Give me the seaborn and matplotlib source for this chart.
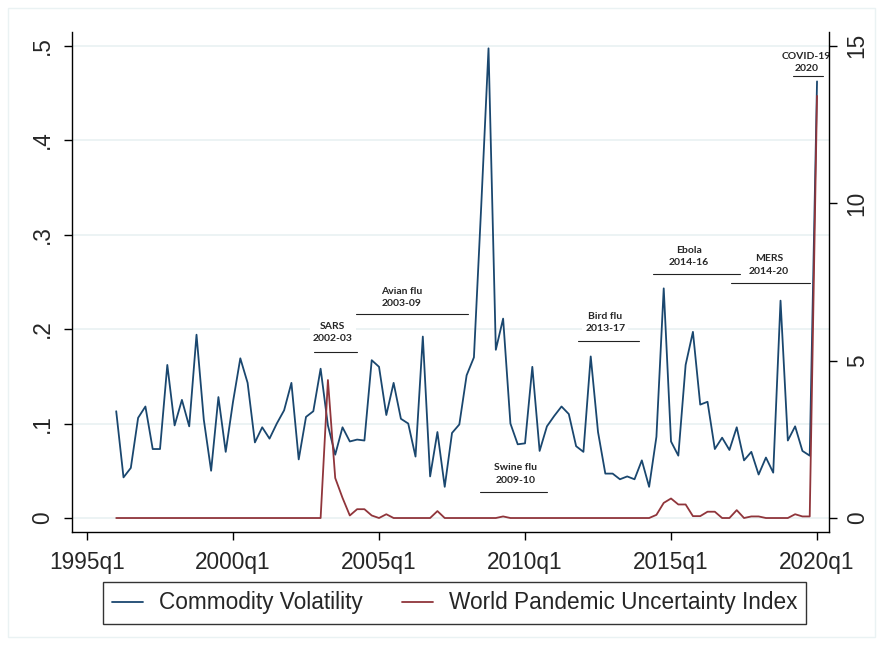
import pandas as pd
import matplotlib
matplotlib.use('Agg')
import matplotlib.pyplot as plt
from matplotlib.patches import Rectangle
import seaborn as sns

# quarterly data, 1996q1 - 2020q1
quarters = pd.period_range('1996Q1', '2020Q1', freq='Q')

commodity_vol = [
    0.113, 0.043, 0.053, 0.106, 0.118, 0.073, 0.073, 0.162, 0.098, 0.125,
    0.097, 0.194, 0.104, 0.050, 0.128, 0.070, 0.123, 0.169, 0.143, 0.080,
    0.096, 0.084, 0.100, 0.114, 0.143, 0.062, 0.107, 0.113, 0.158, 0.098,
    0.067, 0.096, 0.081, 0.083, 0.082, 0.167, 0.160, 0.109, 0.143, 0.105,
    0.100, 0.065, 0.192, 0.044, 0.091, 0.033, 0.090, 0.099, 0.151, 0.170,
    0.330, 0.497, 0.178, 0.211, 0.100, 0.078, 0.079, 0.160, 0.071, 0.097,
    0.108, 0.118, 0.110, 0.076, 0.070, 0.171, 0.091, 0.047, 0.047, 0.041,
    0.044, 0.041, 0.061, 0.033, 0.086, 0.243, 0.081, 0.066, 0.162, 0.197,
    0.120, 0.123, 0.073, 0.085, 0.072, 0.096, 0.061, 0.070, 0.046, 0.064,
    0.048, 0.230, 0.082, 0.097, 0.071, 0.066, 0.462,
]

pandemic_idx = [
    0, 0, 0, 0, 0, 0, 0, 0, 0, 0,
    0, 0, 0, 0, 0, 0, 0, 0, 0, 0,
    0, 0, 0, 0, 0, 0, 0, 0, 0, 4.38,
    1.27, 0.64, 0.08, 0.28, 0.28, 0.08, 0, 0.12, 0, 0,
    0, 0, 0, 0, 0.22, 0, 0, 0, 0, 0,
    0, 0, 0, 0.05, 0, 0, 0, 0, 0, 0,
    0, 0, 0, 0, 0, 0, 0, 0, 0, 0,
    0, 0, 0, 0, 0.10, 0.48, 0.62, 0.43, 0.43, 0.06,
    0.06, 0.20, 0.20, 0, 0, 0.25, 0, 0.05, 0.05, 0,
    0, 0, 0, 0.12, 0.05, 0.05, 13.4,
]

# pandemic episodes: label, text x, text y, underline x0, x1, y
events = [
    ('SARS\n2002-03', 2003.42, 0.196, 2002.77, 2004.25, 0.1753),
    ('Avian flu\n2003-09', 2005.78, 0.233, 2004.21, 2008.06, 0.2159),
    ('Swine flu\n2009-10', 2009.68, 0.0466, 2008.46, 2010.74, 0.0272),
    ('Bird flu\n2013-17', 2012.75, 0.2067, 2011.83, 2013.92, 0.1876),
    ('Ebola\n2014-16', 2015.62, 0.2765, 2014.37, 2017.36, 0.2582),
    ('MERS\n2014-20', 2018.36, 0.2677, 2017.05, 2019.76, 0.249),
    ('COVID-19\n2020', 2019.65, 0.4816, 2019.17, 2020.21, 0.4677),
]

x_ticks = [1995, 2000, 2005, 2010, 2015, 2020]
x_labels = ['1995q1', '2000q1', '2005q1', '2010q1', '2015q1', '2020q1']
left_ticks = [0, 0.1, 0.2, 0.3, 0.4, 0.5]
left_labels = ['0', '.1', '.2', '.3', '.4', '.5']
right_ticks = [0, 5, 10, 15]

df = pd.DataFrame({
    't': [p.year + (p.quarter - 1) / 4 for p in quarters],
    'vol': commodity_vol,
    'wpui': pandemic_idx,
})

sns.set_style('white')
plt.rcParams['font.family'] = ['Liberation Sans', 'DejaVu Sans']

navy = '#1A476F'
maroon = '#90353B'
grid_c = '#EAF2F3'
fs = 16.3

fig = plt.figure(figsize=(8.83, 6.45), dpi=100)
ax = fig.add_axes([72 / 883, 113 / 645, 757 / 883, 500 / 645])
ax2 = ax.twinx()

sns.lineplot(data=df, x='t', y='vol', ax=ax, color=navy, lw=1.3,
             label='Commodity Volatility', legend=False)
sns.lineplot(data=df, x='t', y='wpui', ax=ax2, color=maroon, lw=1.3,
             label='World Pandemic Uncertainty Index', legend=False)

ax.set_xlim(1994.486, 2020.41)
ax.set_ylim(-0.0148, 0.5143)
ax2.set_ylim(-0.0148 * 30, 0.5143 * 30)

ax.set_xticks(x_ticks)
ax.set_xticklabels(x_labels)
ax.set_yticks(left_ticks)
ax.set_yticklabels(left_labels, rotation=90, va='center')
ax2.set_yticks(right_ticks)
ax2.set_yticklabels([str(v) for v in right_ticks], rotation=90, va='center')

for v in left_ticks:
    ax.axhline(v, color=grid_c, lw=1.3, zorder=0)

ax.set_xlabel('')
ax.set_ylabel('')
ax2.set_ylabel('')

for a in (ax, ax2):
    a.spines['top'].set_visible(False)
    for s in a.spines.values():
        s.set_color('black')
        s.set_linewidth(1.0)
ax.spines['right'].set_visible(False)
ax2.spines['left'].set_visible(False)
ax2.spines['bottom'].set_visible(False)

ax.tick_params(axis='x', length=6, width=1, color='black', labelsize=fs, pad=8, bottom=True)
ax.tick_params(axis='y', length=6, width=1, color='black', labelsize=fs, pad=7, left=True)
ax2.tick_params(axis='y', length=6, width=1, color='black', labelsize=fs, pad=6, right=True)

for label, tx, ty, x0, x1, ly in events:
    ax.text(tx, ty, label, ha='center', va='center', fontsize=7.5, fontweight='bold',
            family=['Lato', 'DejaVu Sans'], linespacing=1.45, zorder=6,
            bbox=dict(facecolor='white', edgecolor='none', pad=2))
    ax.plot([x0, x1], [ly, ly], color='#222222', lw=0.8, zorder=7)

h1, l1 = ax.get_legend_handles_labels()
h2, l2 = ax2.get_legend_handles_labels()
leg = fig.legend(h1 + h2, l1 + l2, loc='center', bbox_to_anchor=(454.5 / 883, 42 / 645),
                 ncol=2, fontsize=fs, frameon=True, fancybox=False, edgecolor='black',
                 handlelength=1.37, handletextpad=0.71, columnspacing=1.73,
                 borderpad=0.4, borderaxespad=0)
leg.get_frame().set_linewidth(1.0)
for line in leg.get_lines():
    line.set_linewidth(1.3)

fig.patches.append(Rectangle((8 / 883, 8 / 645), 867 / 883, 629 / 645,
                             transform=fig.transFigure, fill=False,
                             edgecolor=grid_c, lw=1.0))

fig.savefig('out.png', dpi=100)
